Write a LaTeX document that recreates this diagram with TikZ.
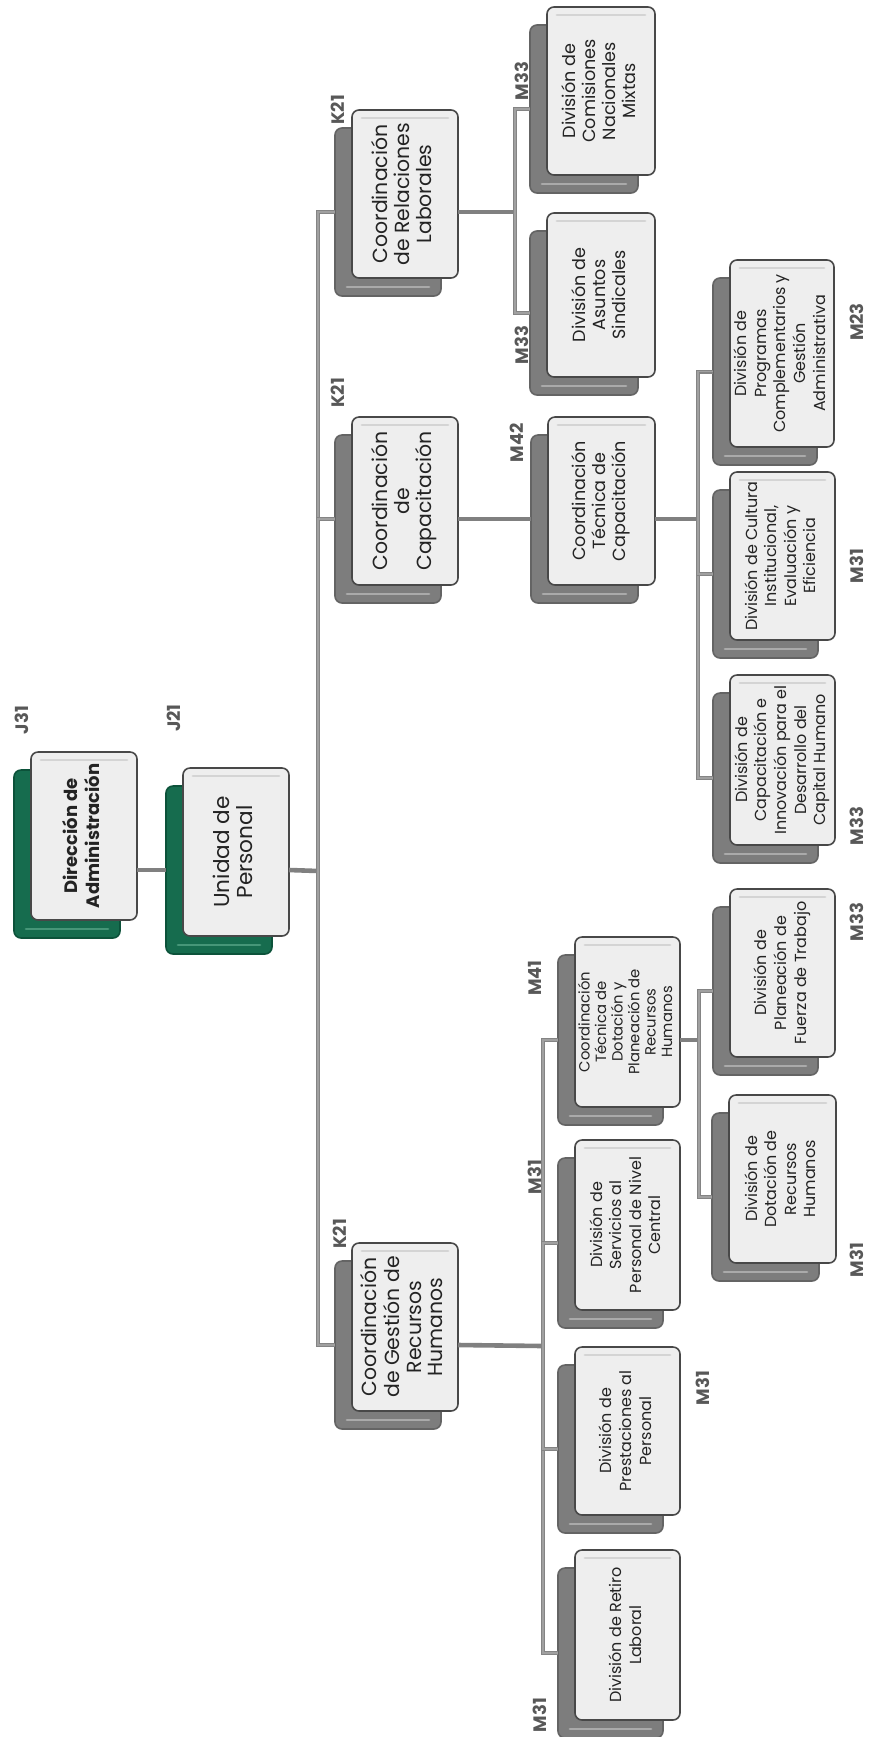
\documentclass[tikz,border=0pt]{standalone}
\usepackage{fontspec}
\setmainfont{Poppins}
\usepackage{graphicx}
\usetikzlibrary{calc}
\definecolor{txt}{RGB}{35,35,35}
\definecolor{lblc}{RGB}{88,88,88}
\definecolor{frontfill}{RGB}{238,238,238}
\definecolor{frontdraw}{RGB}{72,72,72}
\definecolor{bevelc}{RGB}{212,212,212}
\definecolor{gshfill}{RGB}{125,125,125}
\definecolor{gshdraw}{RGB}{100,100,100}
\definecolor{gshhi}{RGB}{170,170,170}
\definecolor{grfill}{RGB}{22,108,78}
\definecolor{grdraw}{RGB}{12,82,58}
\definecolor{grhi}{RGB}{70,150,120}
\definecolor{linkc}{RGB}{128,128,128}
\definecolor{linkout}{RGB}{132,132,132}
\definecolor{linkin}{RGB}{160,160,160}
\tikzset{
  shadowgray/.style={fill=gshfill,draw=gshdraw},
  shadowgreen/.style={fill=grfill,draw=grdraw},
  shadowbox/.style={rectangle,rounded corners=3.5pt,line width=0.8pt,inner sep=0pt,outer sep=0pt},
  frontbox/.style={rectangle,rounded corners=3.5pt,fill=frontfill,draw=frontdraw,line width=0.8pt,inner sep=0pt,outer sep=0pt,text=txt},
  bevel/.style={draw=bevelc,line width=1.4pt,line cap=round},
  shhigray/.style={draw=gshhi,line width=1.4pt,line cap=round},
  shhigreen/.style={draw=grhi,line width=1.4pt,line cap=round},
  plink/.style={draw=linkc,line width=2.3pt},
  blink/.style={draw=linkout,double=linkin,double distance=0.8pt,line width=0.6pt},
  lbl/.style={font=\bfseries\fontsize{9pt}{9pt}\selectfont,text=lblc,rotate=90,inner sep=0pt}
}
% name, x, y, w, h, shadow kind (gray/green), font setup, lines
\newcommand\obox[8]{%
  \node[shadowbox,shadow#6,minimum width={#4*0.5pt},minimum height={#5*0.5pt}] (#1S) at ({#2-17+#4/2},{#3+18+#5/2}) {};
  \draw[shhi#6] ([xshift=6pt,yshift=4.5pt]#1S.south west) -- ([xshift=-6pt,yshift=4.5pt]#1S.south east);
  \node[frontbox,minimum width={#4*0.5pt},minimum height={#5*0.5pt}] (#1) at ({#2+#4/2},{#3+#5/2}) {\rotatebox{90}{#7\begin{tabular}{@{}c@{}}#8\end{tabular}}};
  \draw[bevel] ([xshift=5pt,yshift=-4pt]#1.north west) -- ([xshift=-5pt,yshift=-4pt]#1.north east);
}
\newcommand\fA{\fontsize{10.2pt}{10.9pt}\selectfont}
\newcommand\fB{\fontsize{8.8pt}{10pt}\selectfont}
\newcommand\fC{\fontsize{8pt}{9.8pt}\selectfont}
\newcommand\fD{\fontsize{7.4pt}{8.2pt}\selectfont}
\begin{document}
\begin{tikzpicture}[x=0.5pt,y=-0.5pt]
\useasboundingbox (0,0) rectangle (869,1737);
\fill[white] (0,0) rectangle (869,1737);
% boxes
\obox{dir}{31}{752}{106}{168}{green}{\fontsize{9pt}{11pt}\selectfont\bfseries}{Dirección de\\Administración}
\obox{uni}{183}{768}{106}{168}{green}{\fontsize{10.8pt}{11.5pt}\selectfont}{Unidad de\\Personal}
\obox{rel}{352}{110}{106}{168}{gray}{\fA}{Coordinación\\de Relaciones\\Laborales}
\obox{cap}{352}{417}{106}{168}{gray}{\fA}{Coordinación\\de\\Capacitación}
\obox{ges}{352}{1243}{106}{168}{gray}{\fA}{Coordinación\\de Gestión de\\Recursos\\Humanos}
\obox{com}{547}{7}{108}{168}{gray}{\fB}{División de\\Comisiones\\Nacionales\\Mixtas}
\obox{asu}{547}{213}{108}{164}{gray}{\fB}{División de\\Asuntos\\Sindicales}
\obox{ctc}{548}{417}{107}{168}{gray}{\fB}{Coordinación\\Técnica de\\Capacitación}
\obox{pro}{730}{260}{104}{187}{gray}{\fC}{División de\\Programas\\Complementarios y\\Gestión\\Administrativa}
\obox{cul}{730}{472}{105}{168}{gray}{\fC}{División de Cultura\\Institucional,\\Evaluación y\\Eficiencia}
\obox{cin}{730}{675}{105}{170}{gray}{\fC}{División de\\Capacitación e\\Innovación para el\\Desarrollo del\\Capital Humano}
\obox{ctd}{575}{937}{105}{170}{gray}{\fD}{Coordinación\\Técnica de\\Dotación y\\Planeación de\\Recursos\\Humanos}
\obox{ser}{575}{1140}{105}{170}{gray}{\fC}{División de\\Servicios al\\Personal de Nivel\\Central}
\obox{pre}{575}{1347}{105}{168}{gray}{\fC}{División de\\Prestaciones al\\Personal}
\obox{ret}{575}{1550}{105}{170}{gray}{\fC}{División de Retiro\\Laboral}
\obox{pla}{730}{889}{105}{168}{gray}{\fC}{División de\\Planeación de\\Fuerza de Trabajo}
\obox{dot}{729}{1095}{107}{168}{gray}{\fC}{División de\\Dotación de\\Recursos\\Humanos}
% bus points
\coordinate (bus0) at (318,871);
\coordinate (bus1) at (515,212);
\coordinate (bus2) at (698,519);
\coordinate (bus3) at (543,1346);
\coordinate (bus4) at (699,1040);
% connectors
\draw[plink] (dir.east |- uniS.west) -- (uniS.west);
\draw[plink] (uni.east |- uniS.west) -- (bus0);
\draw[blink] (relS.west) -| (bus0) |- (gesS.west);
\draw[blink] (bus0) |- (capS.west);
\draw[plink] (rel.east |- relS.west) -- (bus1);
\draw[blink] (comS.west) -| (bus1) |- (asuS.west);
\draw[plink] (cap.east |- capS.west) -- (ctcS.west);
\draw[plink] (ctc.east |- ctcS.west) -- (bus2);
\draw[blink] (proS.west) -| (bus2) |- (cinS.west);
\draw[blink] (bus2) |- (culS.west);
\draw[plink] (ges.east |- gesS.west) -- (bus3);
\draw[blink] (ctdS.west) -| (bus3) |- (retS.west);
\draw[blink] (bus3) |- (serS.west);
\draw[blink] (bus3) |- (preS.west);
\draw[plink] (ctd.east |- ctdS.west) -- (bus4);
\draw[blink] (plaS.west) -| (bus4) |- (dotS.west);
% level labels
\node[lbl] (lj31) at (22,720) {J31};
\node[lbl] (lj21) at (174,718) {J21};
\node[lbl] (lk1) at (338,110) {K21};
\node[lbl] (lk2) at (338,393) {K21};
\node[lbl] (lk3) at (340,1234) {K21};
\node[lbl] (lm1) at (522,81) {M33};
\node[lbl] (lm2) at (522,345) {M33};
\node[lbl] (lm3) at (517,443) {M42};
\node[lbl] (lm4) at (857,322) {M23};
\node[lbl] (lm5) at (857,566) {M31};
\node[lbl] (lm6) at (857,826) {M33};
\node[lbl] (lm7) at (857,922) {M33};
\node[lbl] (lm8) at (857,1260) {M31};
\node[lbl] (lm9) at (535,978) {M41};
\node[lbl] (lm10) at (535,1177) {M31};
\node[lbl] (lm11) at (703,1388) {M31};
\node[lbl] (lm12) at (540,1715) {M31};
\end{tikzpicture}
\end{document}
